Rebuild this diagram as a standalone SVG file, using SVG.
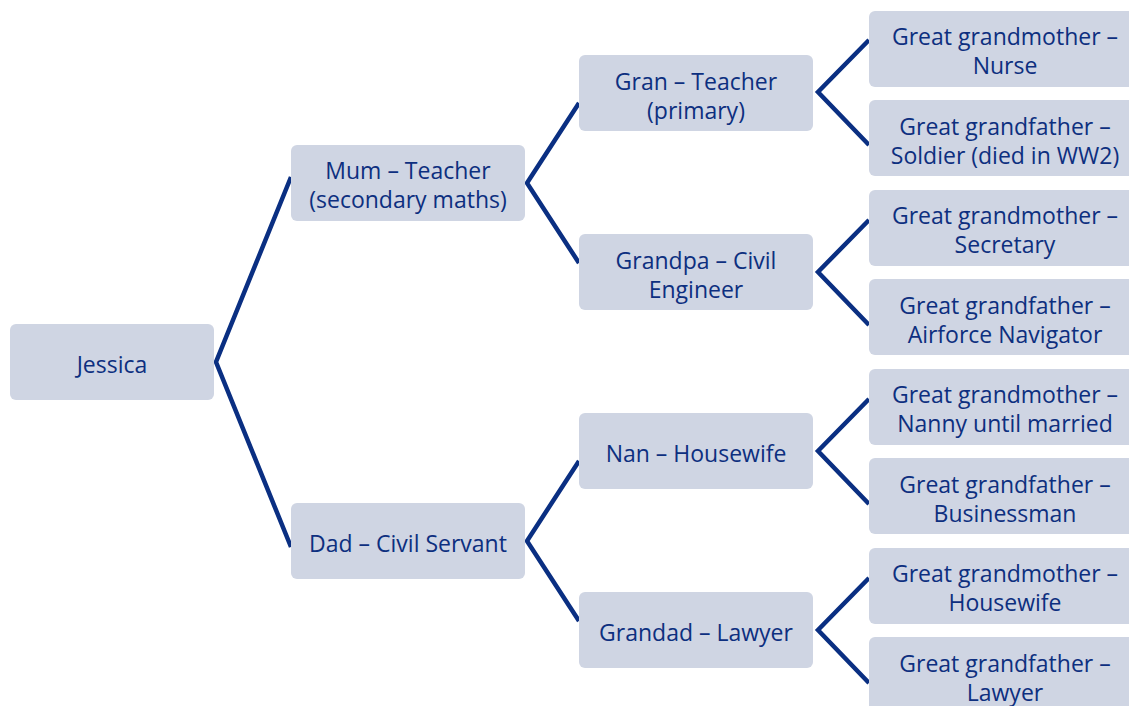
<svg xmlns="http://www.w3.org/2000/svg" width="1129" height="706" viewBox="0 0 1129 706">
<style>
.box{fill:#cfd5e3;}
.t{font-family:"Open Sans","Noto Sans",sans-serif;font-size:23px;fill:#0d2f7f;text-anchor:middle;dominant-baseline:central;}
.c{fill:none;stroke:#0a2f82;stroke-width:4.5;stroke-linejoin:miter;}
</style>
<rect width="1129" height="706" fill="#ffffff"/>
<g id="connectors">
<polyline class="c" points="291,177 216,362 291,547"/>
<polyline class="c" points="579,103 527,183 579,263"/>
<polyline class="c" points="579,461 527,541 579,621"/>
<polyline class="c" points="869,40 818,92 869,145"/>
<polyline class="c" points="869,220 818,272 869,325"/>
<polyline class="c" points="869,399 818,451 869,504"/>
<polyline class="c" points="869,578 818,630 869,683"/>
</g>
<g id="jessica"><rect class="box" x="10" y="324" width="204" height="76" rx="6"/><text class="t" x="112" y="364">Jessica</text></g>
<g id="mum"><rect class="box" x="291" y="145" width="234" height="76" rx="6"/><text class="t" x="408" y="170">Mum – Teacher</text><text class="t" x="408" y="199">(secondary maths)</text></g>
<g id="dad"><rect class="box" x="291" y="503" width="234" height="76" rx="6"/><text class="t" x="408" y="543">Dad – Civil Servant</text></g>
<g id="gran"><rect class="box" x="579" y="55" width="234" height="76" rx="6"/><text class="t" x="696" y="81">Gran – Teacher</text><text class="t" x="696" y="110">(primary)</text></g>
<g id="grandpa"><rect class="box" x="579" y="234" width="234" height="76" rx="6"/><text class="t" x="696" y="260">Grandpa – Civil</text><text class="t" x="696" y="289">Engineer</text></g>
<g id="nan"><rect class="box" x="579" y="413" width="234" height="76" rx="6"/><text class="t" x="696" y="453">Nan – Housewife</text></g>
<g id="grandad"><rect class="box" x="579" y="592" width="234" height="76" rx="6"/><text class="t" x="696" y="632">Grandad – Lawyer</text></g>
<g id="ggm1"><rect class="box" x="869" y="11" width="272" height="76" rx="6"/><text class="t" x="1005" y="36">Great grandmother –</text><text class="t" x="1005" y="65">Nurse</text></g>
<g id="ggf1"><rect class="box" x="869" y="100" width="272" height="76" rx="6"/><text class="t" x="1005" y="126">Great grandfather –</text><text class="t" x="1005" y="155">Soldier (died in WW2)</text></g>
<g id="ggm2"><rect class="box" x="869" y="190" width="272" height="76" rx="6"/><text class="t" x="1005" y="215">Great grandmother –</text><text class="t" x="1005" y="244">Secretary</text></g>
<g id="ggf2"><rect class="box" x="869" y="279" width="272" height="76" rx="6"/><text class="t" x="1005" y="305">Great grandfather –</text><text class="t" x="1005" y="334">Airforce Navigator</text></g>
<g id="ggm3"><rect class="box" x="869" y="369" width="272" height="76" rx="6"/><text class="t" x="1005" y="394">Great grandmother –</text><text class="t" x="1005" y="423">Nanny until married</text></g>
<g id="ggf3"><rect class="box" x="869" y="458" width="272" height="76" rx="6"/><text class="t" x="1005" y="484">Great grandfather –</text><text class="t" x="1005" y="513">Businessman</text></g>
<g id="ggm4"><rect class="box" x="869" y="548" width="272" height="76" rx="6"/><text class="t" x="1005" y="573">Great grandmother –</text><text class="t" x="1005" y="602">Housewife</text></g>
<g id="ggf4"><rect class="box" x="869" y="637" width="272" height="76" rx="6"/><text class="t" x="1005" y="663">Great grandfather –</text><text class="t" x="1005" y="692">Lawyer</text></g>
</svg>
